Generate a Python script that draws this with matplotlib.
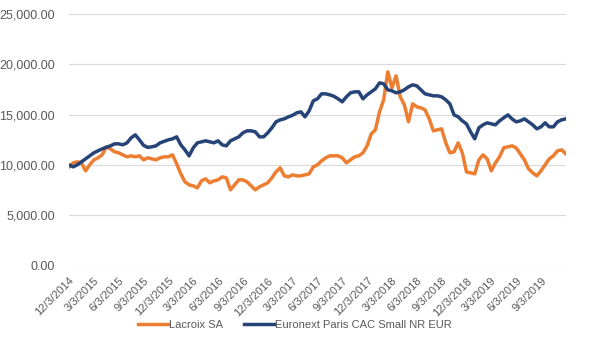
import matplotlib

matplotlib.use("Agg")
import matplotlib.pyplot as plt
import pandas as pd
from matplotlib.ticker import FuncFormatter

plt.rcParams["font.family"] = ["Liberation Sans", "DejaVu Sans"]

# --- data: semi-monthly values, 12/3/2014 .. 12/3/2019 ---
START, END = "2014-12-03", "2019-12-03"
SERIES_NAMES = ["Lacroix SA", "Euronext Paris CAC Small NR EUR"]
SERIES_COLORS = ["#ED7D31", "#264478"]

LACROIX = [
    9821, 10218, 10317, 10218, 9424, 10019, 10515, 10714, 11011, 11805,
    11606, 11309, 11210, 11011, 10813, 10912, 10813, 10912, 10515, 10714,
    10615, 10515, 10714, 10813, 10813, 11011, 10118, 9126, 8333, 8035,
    7936, 7738, 8432, 8631, 8234, 8432, 8531, 8829, 8730, 7539,
    8035, 8531, 8531, 8333, 7936, 7539, 7837, 8035, 8234, 8730,
    9325, 9722, 8928, 8829, 9027, 8928, 8928, 9027, 9126, 9821,
    10019, 10416, 10714, 10912, 10912, 10912, 10714, 10218, 10515, 10813,
    10912, 11210, 11904, 13094, 13491, 15277, 16467, 19245, 17658, 18848,
    16765, 15971, 14285, 16070, 15773, 15674, 15475, 14582, 13392, 13491,
    13591, 12202, 11210, 11309, 12202, 11210, 9325, 9226, 9126, 10515,
    11011, 10615, 9424, 10218, 10813, 11706, 11805, 11904, 11706, 11110,
    10515, 9623, 9226, 8928, 9424, 10019, 10615, 10912, 11408, 11507,
    11110,
]

CAC_SMALL = [
    10000, 9821, 10019, 10317, 10614, 10912, 11210, 11408, 11606, 11755,
    11904, 12102, 12102, 12003, 12202, 12698, 12995, 12499, 11953, 11755,
    11805, 11904, 12202, 12350, 12499, 12598, 12797, 12003, 11507, 10912,
    11706, 12202, 12301, 12400, 12301, 12202, 12400, 12003, 11904, 12400,
    12598, 12797, 13194, 13392, 13392, 13293, 12797, 12797, 13194, 13690,
    14285, 14483, 14582, 14781, 14930, 15178, 15277, 14781, 15376, 16368,
    16566, 17062, 17062, 16963, 16814, 16566, 16269, 16765, 17162, 17261,
    17261, 16566, 16963, 17261, 17558, 18154, 18055, 17459, 17360, 17162,
    17261, 17459, 17757, 17955, 17856, 17459, 17062, 16963, 16864, 16864,
    16765, 16467, 16070, 14979, 14781, 14384, 14086, 13293, 12598, 13690,
    13987, 14186, 14086, 13987, 14384, 14682, 14979, 14582, 14285, 14384,
    14582, 14285, 13987, 13591, 13789, 14186, 13789, 13789, 14285, 14483,
    14582,
]

Y_TICKS = [0, 5000, 10000, 15000, 20000, 25000]

dates = pd.date_range(START, END, periods=len(LACROIX))
tick_dates = [pd.Timestamp(START) + pd.DateOffset(months=3 * i) for i in range(20)]

fig = plt.figure(figsize=(5.9, 3.54), dpi=100)
ax = fig.add_axes([0.117, 0.249, 0.842, 0.712])

for vals, name, color in zip([LACROIX, CAC_SMALL], SERIES_NAMES, SERIES_COLORS):
    ax.plot(dates, vals, color=color, lw=2.5, label=name, solid_joinstyle="round")

ax.set_ylim(0, 25000)
ax.set_xlim(dates[0], dates[-1])
ax.set_yticks(Y_TICKS)
ax.yaxis.set_major_formatter(FuncFormatter(lambda v, _: f"{v:,.2f}"))
ax.set_xticks(tick_dates)
ax.set_xticklabels([f"{d.month}/{d.day}/{d.year}" for d in tick_dates],
                   rotation=45, ha="right", rotation_mode="anchor")
ax.tick_params(axis="both", length=0, colors="#595959")
ax.tick_params(axis="y", pad=10, labelsize=9)
ax.tick_params(axis="x", pad=7, labelsize=8)
ax.grid(axis="y", color="#D9D9D9", lw=0.8)
ax.set_axisbelow(True)
for s in ax.spines.values():
    s.set_visible(False)

leg = ax.legend(loc="center", bbox_to_anchor=(0.5, 0.082), bbox_transform=fig.transFigure,
                ncol=2, frameon=False, fontsize=8, handlelength=2.7,
                handletextpad=0.1, columnspacing=1.9)
for t in leg.get_texts():
    t.set_color("#595959")

fig.savefig("out.png", dpi=100)
